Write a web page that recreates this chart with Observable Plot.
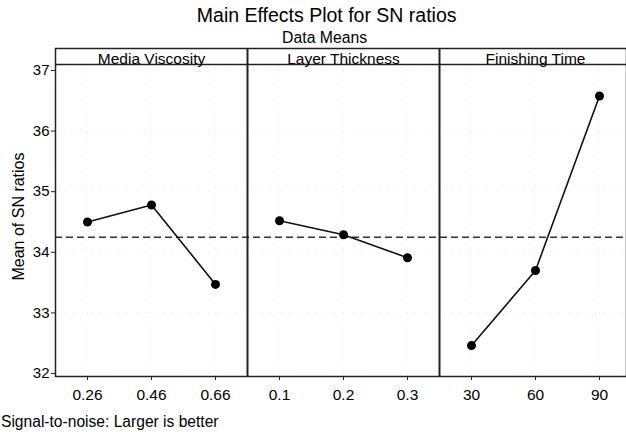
<!DOCTYPE html>
<html><head><meta charset="utf-8">
<script src="https://cdn.jsdelivr.net/npm/d3@7"></script>
<script src="https://cdn.jsdelivr.net/npm/@observablehq/plot@0.6"></script>
<style>
body{margin:0;background:#fff;}
#wrap{position:relative;width:626px;height:432px;font-family:"Liberation Sans",Arial,sans-serif;color:#000;overflow:hidden;}
#wrap svg{position:absolute;left:0;top:0;}
.t{position:absolute;white-space:nowrap;line-height:1;}
</style></head><body>
<div id="wrap">
 <div class="t" style="left:326.7px;top:6.2px;font-size:19.5px;transform:translateX(-50%)">Main Effects Plot for SN ratios</div>
 <div class="t" style="left:324.7px;top:29.6px;font-size:15.8px;transform:translateX(-50%)">Data Means</div>
 <div class="t" style="left:1px;top:413.5px;font-size:15.6px;">Signal-to-noise: Larger is better</div>
</div>
<script>
const factors = ["Media Viscosity", "Layer Thickness", "Finishing Time"];
const levels = [["0.26", "0.46", "0.66"], ["0.1", "0.2", "0.3"], ["30", "60", "90"]];
const means = [[34.50, 34.78, 33.47], [34.52, 34.29, 33.91], [32.46, 33.70, 36.58]];
const overallMean = 34.25;
const yTicks = [32, 33, 34, 35, 36, 37];

const yDomain = [31.95, 37.363];
const stripY = 37.099;

const rows = [];
factors.forEach((f, k) => levels[k].forEach((lv, j) => rows.push({factor: f, level: lv, i: k * 3 + j, value: means[k][j]})));
const allLevels = rows.map(d => d.level);
const idx = rows.map(d => d.i);
const seps = factors.slice(1).map((_, k) => 3 * (k + 1) - 0.5);
const stripPos = factors.map((_, k) => 3 * k + 1);

const chart = Plot.plot({
  width: 626, height: 432,
  marginLeft: 55, marginRight: 0, marginTop: 48, marginBottom: 56,
  style: {fontFamily: "Liberation Sans, Arial, sans-serif", fontSize: "15px", color: "#000", background: "white", overflow: "visible"},
  x: {domain: [-0.5, 8.5], range: [55, 631]},
  y: {domain: yDomain},
  marks: [
    Plot.ruleY(yTicks, {stroke: "#bbb", strokeOpacity: 0.35, strokeDasharray: "1,8"}),
    Plot.ruleX(idx, {y1: yDomain[0], y2: stripY, stroke: "#bbb", strokeOpacity: 0.35, strokeDasharray: "1,8"}),
    Plot.ruleY([overallMean], {stroke: "#333", strokeWidth: 1.5, strokeDasharray: "7,4"}),
    Plot.ruleX(seps, {stroke: "#222", strokeWidth: 2}),
    Plot.ruleY([stripY], {stroke: "#222", strokeWidth: 1.5}),
    Plot.text(factors, {x: (d, k) => stripPos[k], y: () => stripY, text: d => d, dy: -5.3, fontSize: 15.5, fill: "#000"}),
    Plot.line(rows, {x: "i", y: "value", z: "factor", stroke: "#111", strokeWidth: 1.6}),
    Plot.dot(rows, {x: "i", y: "value", r: 4.5, fill: "#000", stroke: "none"}),
    Plot.axisX(idx, {tickFormat: i => allLevels[i], tickSize: 4, tickPadding: 8, fontSize: 15.5, label: null, stroke: "#222"}),
    Plot.axisY(yTicks, {tickFormat: d => String(d), tickSize: 4, tickPadding: 2, fontSize: 15, label: null, stroke: "#222"}),
    Plot.text(["Mean of SN ratios"], {frameAnchor: "left", textAnchor: "middle", dx: -37, dy: 4, rotate: -90, fontSize: 16, fill: "#000"}),
    Plot.frame({stroke: "#222", strokeWidth: 1.5})
  ]
});
const wrap = document.getElementById("wrap");
wrap.insertBefore(chart, wrap.firstChild);
</script>
</body></html>
